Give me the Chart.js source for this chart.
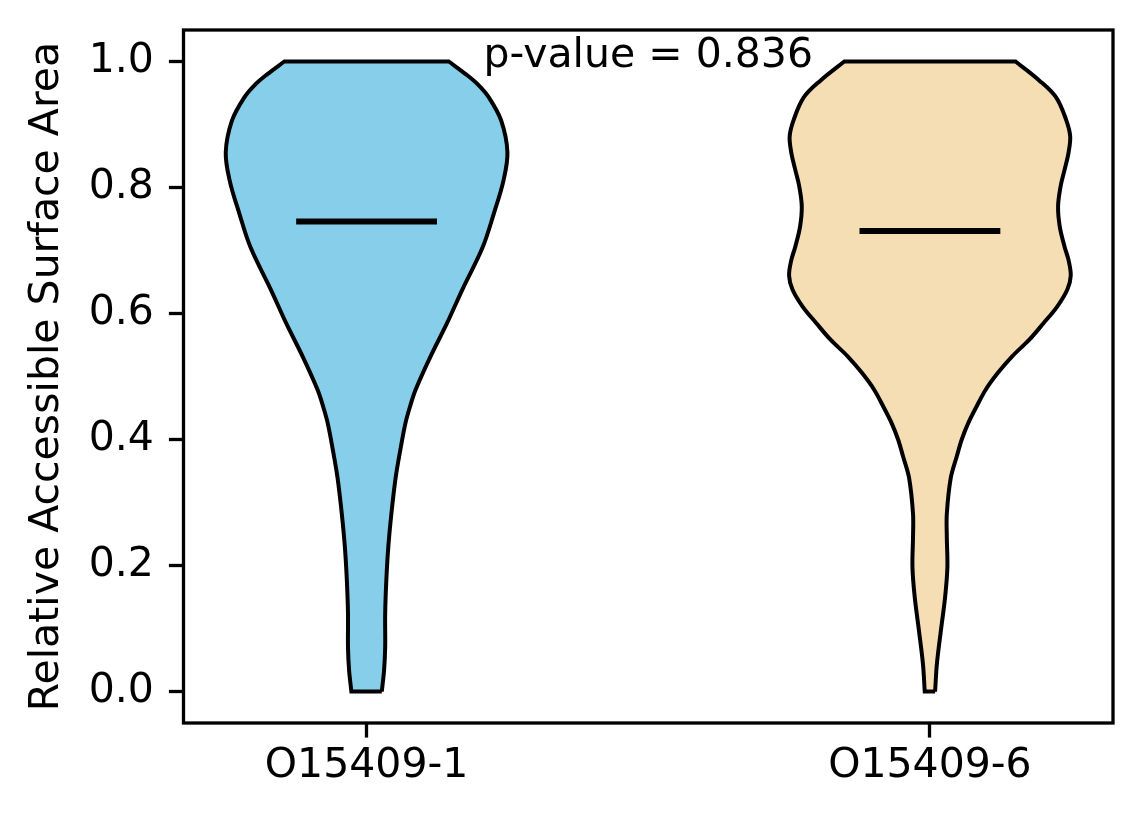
<!DOCTYPE html>
<html>
<head>
<meta charset="utf-8">
<script src="https://cdn.jsdelivr.net/npm/chart.js@4"></script>
<style>
    body { margin: 0; background: #fff; }
    canvas { display: block; }
</style>
</head>
<body>
<canvas id="myChart" width="1144" height="824"></canvas>
<script>
// Categories (one violin per category, placed at x = 1, 2)
const categories = ['O15409-1', 'O15409-6'];
const medians = [0.746, 0.731];
const pValue = 0.836;
const yTicks = [0.0, 0.2, 0.4, 0.6, 0.8, 1.0];

// Density outline of each violin: RSA level and half-width (in x units)
const blueLevels = [0.0, 0.033, 0.07, 0.123, 0.176, 0.229, 0.282, 0.339, 0.384, 0.426, 0.452, 0.479,
    0.532, 0.585, 0.638, 0.705, 0.759, 0.811, 0.856, 0.906, 0.943, 0.964, 0.98, 1.0];
const blueWidths = [0.027, 0.031, 0.033, 0.033, 0.035, 0.0385, 0.044, 0.0515, 0.060, 0.069, 0.077, 0.087,
    0.1136, 0.143, 0.170, 0.206, 0.226, 0.243, 0.25, 0.239, 0.217, 0.197, 0.176, 0.146];

const tanLevels = [0.0, 0.044, 0.097, 0.15, 0.197, 0.245, 0.282, 0.339, 0.373, 0.4, 0.426, 0.452, 0.479,
    0.505, 0.532, 0.558, 0.585, 0.611, 0.638, 0.66, 0.685, 0.706, 0.738, 0.77, 0.802, 0.828, 0.855, 0.881,
    0.907, 0.943, 0.97, 1.0];
const tanWidths = [0.0092, 0.0124, 0.0195, 0.027, 0.031, 0.030, 0.030, 0.037, 0.0476, 0.0565, 0.068, 0.0826, 0.099,
    0.120, 0.146, 0.176, 0.202, 0.226, 0.244, 0.25, 0.246, 0.239, 0.2305, 0.2275, 0.232, 0.239, 0.246, 0.249,
    0.242, 0.224, 0.194, 0.152];

const violinColors = ['#87CEEB', '#F5DEB3'];
const font = { family: 'DejaVu Sans', size: 41 };

// Builds a closed outline: right side going up, left side coming down.
// Corner points are repeated so the spline keeps the flat caps straight.
function violinOutline(center, levels, widths) {
    const n = levels.length;
    const right = levels.map((y, i) => ({ x: center + widths[i], y: y }));
    const left = levels.map((y, i) => ({ x: center - widths[i], y: y })).reverse();
    return [...right, right[n - 1], left[0], ...left, left[n - 1], right[0]];
}

const outlines = [
    violinOutline(1, blueLevels, blueWidths),
    violinOutline(2, tanLevels, tanWidths)
];

let datasets = [];

// Median lines go on top of the violins
medians.forEach((m, i) => {
    datasets.push({
        data: [{ x: i + 1 - 0.125, y: m }, { x: i + 1 + 0.125, y: m }],
        borderColor: '#000',
        borderWidth: 6,
        pointRadius: 0,
        fill: false,
        order: 0
    });
});

outlines.forEach((pts, i) => {
    datasets.push({
        data: pts,
        borderColor: '#000',
        borderWidth: 4,
        backgroundColor: violinColors[i],
        pointRadius: 0,
        tension: 0.35,
        fill: 'shape',
        order: 1
    });
});

// Frame around the plot area and the p-value annotation
const framePlugin = {
    id: 'frame',
    afterDraw(chart) {
        const { ctx, chartArea: a, scales } = chart;
        ctx.save();
        ctx.strokeStyle = '#000';
        ctx.lineWidth = 3.3;
        ctx.strokeRect(a.left, a.top, a.right - a.left, a.bottom - a.top);

        ctx.fillStyle = '#000';
        ctx.font = '41px "DejaVu Sans"';
        ctx.textAlign = 'center';
        ctx.textBaseline = 'alphabetic';
        ctx.fillText('p-value = ' + pValue.toFixed(3),
            scales.x.getPixelForValue(1.5), scales.y.getPixelForValue(0.992));
        ctx.restore();
    }
};

// Tick labels must not push the plot area around
function noOverflow(scale) {
    scale.paddingTop = 0;
    scale.paddingBottom = 0;
    scale.paddingLeft = 0;
    scale.paddingRight = 0;
}

const tickGrid = {
    display: true,
    drawOnChartArea: false,
    drawTicks: true,
    tickLength: 14.6,
    tickWidth: 3.3,
    tickColor: '#000'
};

const canvas = document.getElementById('myChart');

new Chart(canvas, {
    type: 'line',
    data: { datasets: datasets },
    options: {
        responsive: false,
        animation: false,
        layout: { padding: { left: 0, top: 30, right: 31, bottom: 0 } },
        plugins: {
            legend: { display: false },
            tooltip: { enabled: false }
        },
        scales: {
            x: {
                type: 'linear',
                min: 0.675,
                max: 2.325,
                afterBuildTicks: scale => {
                    scale.ticks = categories.map((c, i) => ({ value: i + 1 }));
                },
                afterFit: scale => {
                    noOverflow(scale);
                    scale.height = 101;
                },
                ticks: {
                    color: '#000',
                    font: font,
                    padding: 4.6,
                    maxRotation: 0,
                    callback: v => categories[v - 1]
                },
                grid: tickGrid,
                border: { display: false }
            },
            y: {
                type: 'linear',
                min: -0.05,
                max: 1.05,
                afterBuildTicks: scale => {
                    scale.ticks = yTicks.map(v => ({ value: v }));
                },
                afterFit: scale => {
                    noOverflow(scale);
                    scale.width = 183.5;
                },
                ticks: {
                    color: '#000',
                    font: font,
                    padding: 15,
                    callback: v => v.toFixed(1)
                },
                title: {
                    display: true,
                    text: 'Relative Accessible Surface Area',
                    color: '#000',
                    font: font,
                    padding: { top: 23, bottom: 0 }
                },
                grid: tickGrid,
                border: { display: false }
            }
        }
    },
    plugins: [framePlugin]
});
</script>
</body>
</html>
